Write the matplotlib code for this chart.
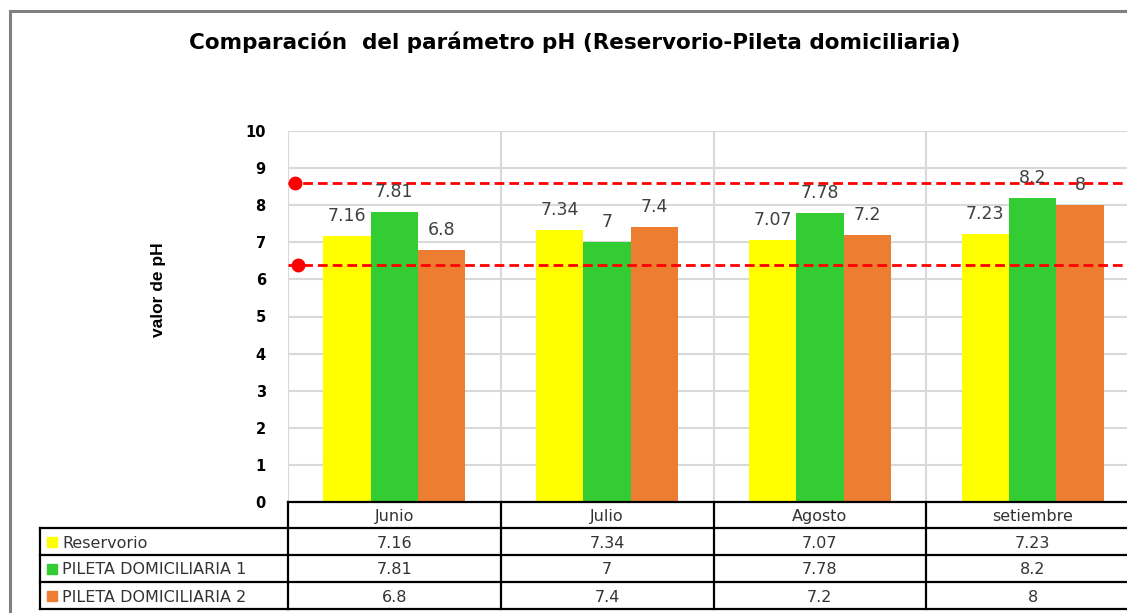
import matplotlib
matplotlib.use("Agg")
import matplotlib.pyplot as plt
import matplotlib.transforms as mtransforms
from matplotlib.lines import Line2D
from matplotlib.patches import Rectangle
import numpy as np

# ---- data ----
categories = ["Junio", "Julio", "Agosto", "setiembre"]
series_names = ["Reservorio", "PILETA DOMICILIARIA 1", "PILETA DOMICILIARIA 2"]
reservorio = [7.16, 7.34, 7.07, 7.23]
pileta1 = [7.81, 7.0, 7.78, 8.2]
pileta2 = [6.8, 7.4, 7.2, 8.0]
limits = [8.6, 6.4]
yticks = list(range(0, 11))
title = "Comparación  del parámetro pH (Reservorio-Pileta domiciliaria)"
ylabel = "valor de pH"

series = [reservorio, pileta1, pileta2]
colors = ["#FFFF00", "#33CC33", "#ED7D31"]

W, H = 1127, 613
fig = plt.figure(figsize=(W / 100, H / 100), dpi=100)

def fx(x):
    return x / W

def fy(y):
    return 1 - y / H

# outer chart border
fig.add_artist(Rectangle((fx(10), fy(700)), fx(1300), fy(11) - fy(700),
                         transform=fig.transFigure, fill=False,
                         edgecolor="#808080", linewidth=2.2))

ax_left, ax_right, ax_top, ax_bot = 288, 1139, 131, 502
ax = fig.add_axes([fx(ax_left), fy(ax_bot), fx(ax_right - ax_left), fy(ax_top) - fy(ax_bot)])

x = np.arange(len(categories))
bw = 1 / 4.5
for i, (vals, col) in enumerate(zip(series, colors)):
    pos = x + (i - 1) * bw
    ax.bar(pos, vals, width=bw, color=col, zorder=3)
    for p, v in zip(pos, vals):
        ax.annotate(f"{v:g}", (p, v), xytext=(0, 8), textcoords="offset points",
                    ha="center", va="bottom", fontsize=12.5, color="#404040",
                    family="DejaVu Sans", zorder=5)

ax.set_xlim(-0.5, len(categories) - 0.5)
ax.set_ylim(0, 10)
ax.set_yticks(yticks)
ax.set_yticklabels([str(t) for t in yticks], fontsize=10.5, fontweight="bold",
                   family="DejaVu Sans")
ax.tick_params(axis="y", length=0, pad=16)
ax.set_xticks([])
for s in ax.spines.values():
    s.set_visible(False)
for t in yticks[1:]:
    ax.axhline(t, color="#D9D9D9", linewidth=1.5, zorder=1)
for b in np.arange(-0.5, len(categories), 1.0):
    ax.axvline(b, color="#D9D9D9", linewidth=1.5, zorder=1)

# limit lines
for i, lim in enumerate(limits):
    ax.plot([-0.5, len(categories)], [lim, lim], color="#FF0000", linewidth=2,
            dashes=(3.5, 1.8), zorder=4, clip_on=False)
    ax.plot([-0.467 + 0.013 * i], [lim], "o", color="#FF0000", markersize=9,
            zorder=4, clip_on=False)

# title and ylabel
fig.text(fx(575), fy(42), title, ha="center", va="center", fontsize=15.5,
         fontweight="bold", family="DejaVu Sans")
fig.text(fx(158), fy(290), ylabel, ha="center", va="center", rotation=90,
         fontsize=12.5, fontweight="bold", family=["Liberation Sans", "DejaVu Sans"])

# ---- data table ----
blend = mtransforms.blended_transform_factory(ax.transData, fig.transFigure)
rows_y = [502, 528, 555, 582, 609]
lw = 1.6
xr = len(categories) - 0.5
fig.add_artist(Line2D([-0.5, xr], [fy(rows_y[0])] * 2, transform=blend, color="black", lw=lw, clip_on=False))
for ry in rows_y[1:]:
    fig.add_artist(Line2D([fx(40), fx(ax_left)], [fy(ry)] * 2, transform=fig.transFigure, color="black", lw=lw))
    fig.add_artist(Line2D([-0.5, xr], [fy(ry)] * 2, transform=blend, color="black", lw=lw, clip_on=False))
fig.add_artist(Line2D([fx(40)] * 2, [fy(rows_y[1]), fy(rows_y[-1])], transform=fig.transFigure, color="black", lw=lw))
for b in np.arange(-0.5, len(categories) + 0.5, 1.0):
    fig.add_artist(Line2D([b, b], [fy(rows_y[0]), fy(rows_y[-1])], transform=blend, color="black", lw=lw, clip_on=False))

tcol = "#333333"
fs = 11.5
for xi, cat in zip(x, categories):
    fig.text(xi, fy((rows_y[0] + rows_y[1]) / 2), cat, transform=blend, ha="center",
             va="center_baseline", fontsize=fs, color=tcol, family="DejaVu Sans")
for r, (name, vals, col) in enumerate(zip(series_names, series, colors)):
    yc = (rows_y[r + 1] + rows_y[r + 2]) / 2
    fig.add_artist(Rectangle((fx(47), fy(yc + 5)), fx(10), fy(yc - 5) - fy(yc + 5),
                             transform=fig.transFigure, color=col))
    fig.text(fx(62), fy(yc), name, ha="left", va="center_baseline", fontsize=fs,
             color=tcol, family="DejaVu Sans")
    for xi, v in zip(x, vals):
        fig.text(xi, fy(yc), f"{v:g}", transform=blend, ha="center", va="center_baseline",
                 fontsize=fs, color=tcol, family="DejaVu Sans")

fig.savefig("out.png", dpi=100)
